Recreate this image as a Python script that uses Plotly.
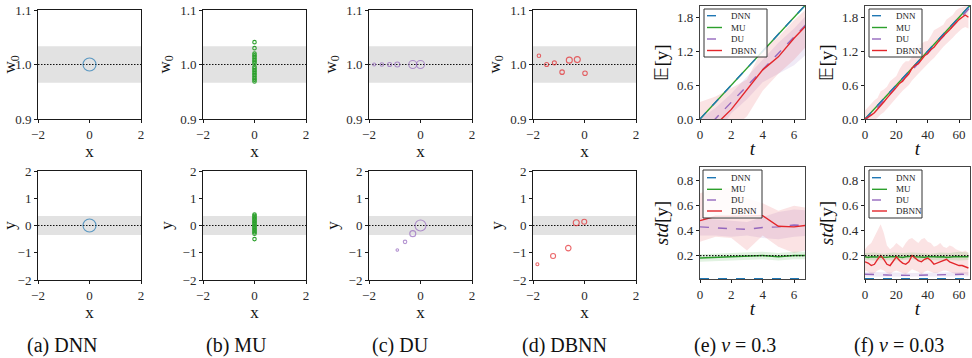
import plotly.graph_objects as go

W, H = 972, 358

# ---------------- data ----------------
# (a) DNN
dnn_top_x = [0.0]
dnn_top_w = [1.0]
dnn_top_s = [13]
dnn_bot_x = [0.0]
dnn_bot_y = [0.0]
dnn_bot_s = [13]
# (b) MU
mu_top_w = [1.041, 1.030, 1.020, 1.017, 1.014, 1.011, 1.008, 1.005, 1.002,
            0.996, 0.993, 0.990, 0.987, 0.984, 0.981, 0.978, 0.975, 0.972, 0.969]
mu_top_x = [0.0] * len(mu_top_w)
mu_bot_y = [0.40, 0.35, 0.30, 0.25, 0.20, 0.15, 0.10, 0.05, 0.00, -0.05,
            -0.10, -0.15, -0.20, -0.25, -0.30, -0.50]
mu_bot_x = [0.0] * len(mu_bot_y)
mu_s = 3.5
# (c) DU
du_top_x = [-1.8, -1.5, -1.2, -0.9, -0.3, 0.0]
du_top_w = [1.0, 1.0, 1.0, 1.0, 1.0, 1.0]
du_top_s = [3, 3.5, 4, 5, 8, 8]
du_bot_x = [-0.9, -0.6, -0.3, 0.0]
du_bot_y = [-0.9, -0.6, -0.3, 0.0]
du_bot_s = [2.5, 3.5, 6, 11]
# (d) DBNN
db_top_x = [-1.77, -1.47, -1.17, -0.87, -0.59, -0.28, 0.02]
db_top_w = [1.016, 1.000, 1.003, 0.986, 1.008, 1.009, 0.984]
db_top_s = [3.5, 4, 4, 4.5, 6, 6, 4.5]
db_bot_x = [-1.83, -1.22, -0.63, -0.32, -0.01]
db_bot_y = [-1.42, -1.12, -0.83, 0.10, 0.14]
db_bot_s = [3, 5, 5.5, 6, 5]
# noise bands
top_band = [0.9667, 1.0333]
bot_band = [-0.35, 0.35]

# (e) v = 0.3
e_t = [0, 1, 2, 3, 4, 5, 6, 7]
e_mean_dnn = [0.00, 0.30, 0.60, 0.90, 1.20, 1.50, 1.80, 2.10]
e_mean_mu = [0.00, 0.30, 0.61, 0.90, 1.21, 1.50, 1.81, 2.10]
e_mean_du = [-0.28, 0.01, 0.30, 0.59, 0.88, 1.16, 1.45, 1.74]
e_mean_dbnn = [-0.40, -0.10, 0.17, 0.51, 0.87, 1.10, 1.43, 1.72]
e_du_lo = [-0.60, -0.30, 0.10, 0.35, 0.65, 0.80, 0.95, 1.20]
e_du_hi = [0.00, 0.20, 0.45, 0.75, 1.05, 1.35, 1.60, 1.90]
e_dbnn_lo = [-0.90, -0.60, -0.20, 0.05, 0.50, 0.80, 1.05, 1.35]
e_dbnn_hi = [0.30, 0.40, 0.55, 0.70, 1.25, 1.45, 1.75, 2.00]

e_std_dnn = [0.015, 0.015, 0.015, 0.015, 0.015, 0.015, 0.015, 0.015]
e_std_mu = [0.180, 0.185, 0.190, 0.200, 0.200, 0.190, 0.200, 0.200]
e_std_du = [0.430, 0.420, 0.415, 0.410, 0.425, 0.430, 0.445, 0.440]
e_std_dbnn = [0.480, 0.515, 0.515, 0.515, 0.520, 0.435, 0.430, 0.445]
e_std_mu_lo = [0.150, 0.155, 0.160, 0.170, 0.170, 0.160, 0.170, 0.170]
e_std_mu_hi = [0.210, 0.215, 0.220, 0.230, 0.230, 0.220, 0.230, 0.230]
e_std_du_lo = [0.36, 0.36, 0.35, 0.36, 0.34, 0.33, 0.35, 0.36]
e_std_du_hi = [0.50, 0.49, 0.48, 0.47, 0.51, 0.55, 0.57, 0.56]
e_std_dbnn_lo = [0.31, 0.35, 0.34, 0.24, 0.36, 0.27, 0.22, 0.25]
e_std_dbnn_hi = [0.70, 0.74, 0.74, 0.66, 0.62, 0.56, 0.60, 0.58]

# (f) v = 0.03
f_t = [0, 10, 20, 30, 40, 50, 60, 70]
f_mean_dnn = [0.00, 0.30, 0.60, 0.90, 1.20, 1.50, 1.80, 2.10]
f_mean_mu = [0.00, 0.30, 0.60, 0.90, 1.20, 1.50, 1.80, 2.10]
f_mean_du = [-0.03, 0.27, 0.57, 0.87, 1.17, 1.46, 1.76, 2.06]
f_t2 = [0, 2, 4, 6, 8, 10, 12, 14, 16, 18, 20, 22, 24, 26, 28, 30, 32,
        34, 36, 38, 40, 42, 44, 46, 48, 50, 52, 54, 56, 58, 60, 62, 64, 66]
f_mean_dbnn = [0.00, 0.03, 0.07, 0.11, 0.17, 0.24, 0.30, 0.37, 0.43, 0.50, 0.56,
               0.63, 0.67, 0.74, 0.80, 0.90, 0.95, 0.98, 1.05, 1.12, 1.16, 1.23,
               1.27, 1.35, 1.41, 1.47, 1.52, 1.58, 1.64, 1.70, 1.76, 1.80, 1.84, 1.80]
f_dbnn_hi = [0.15, 0.21, 0.27, 0.33, 0.37, 0.49, 0.52, 0.57, 0.67, 0.72, 0.76,
             0.88, 0.97, 1.02, 1.02, 1.10, 1.25, 1.33, 1.33, 1.37, 1.38, 1.47,
             1.57, 1.60, 1.63, 1.67, 1.76, 1.80, 1.84, 1.92, 1.96, 1.98, 2.00, 2.00]
f_dbnn_lo = [-0.12, -0.10, -0.06, -0.02, 0.02, 0.08, 0.12, 0.18, 0.25, 0.30, 0.38,
             0.44, 0.50, 0.55, 0.60, 0.68, 0.75, 0.80, 0.86, 0.92, 0.98, 1.03,
             1.08, 1.15, 1.22, 1.28, 1.33, 1.38, 1.44, 1.50, 1.55, 1.60, 1.63, 1.60]

f_std_dnn = [0.015] * len(f_t2)
f_std_mu = [0.190, 0.185, 0.190, 0.188, 0.192, 0.190, 0.187, 0.185, 0.190, 0.193,
            0.190, 0.188, 0.185, 0.190, 0.192, 0.195, 0.190, 0.188, 0.190, 0.186,
            0.190, 0.193, 0.190, 0.188, 0.192, 0.190, 0.185, 0.188, 0.190, 0.193,
            0.190, 0.187, 0.190, 0.190]
f_std_du = [0.050, 0.050, 0.048, 0.047, 0.046, 0.045, 0.045, 0.044, 0.043, 0.042,
            0.042, 0.041, 0.040, 0.040, 0.040, 0.041, 0.041, 0.042, 0.043, 0.044,
            0.045, 0.046, 0.046, 0.047, 0.048, 0.048, 0.049, 0.050, 0.050, 0.050,
            0.050, 0.050, 0.049, 0.049]
f_std_dbnn = [0.15, 0.14, 0.12, 0.13, 0.17, 0.20, 0.17, 0.13, 0.12, 0.16, 0.19,
              0.16, 0.14, 0.13, 0.15, 0.20, 0.18, 0.16, 0.15, 0.17, 0.18, 0.16,
              0.13, 0.14, 0.15, 0.16, 0.17, 0.15, 0.14, 0.13, 0.12, 0.12, 0.11, 0.10]
f_std_dbnn_hi = [0.25, 0.28, 0.30, 0.35, 0.40, 0.45, 0.38, 0.28, 0.25, 0.27, 0.30,
                 0.28, 0.26, 0.30, 0.33, 0.34, 0.32, 0.30, 0.33, 0.34, 0.31, 0.30,
                 0.27, 0.28, 0.30, 0.27, 0.26, 0.28, 0.27, 0.25, 0.24, 0.23, 0.24, 0.22]
f_std_dbnn_lo = [0.08, 0.07, 0.05, 0.06, 0.08, 0.09, 0.08, 0.06, 0.05, 0.07, 0.08,
                 0.07, 0.06, 0.05, 0.07, 0.09, 0.08, 0.07, 0.05, 0.07, 0.08, 0.07,
                 0.06, 0.06, 0.07, 0.08, 0.08, 0.07, 0.06, 0.05, 0.05, 0.05, 0.05, 0.04]
f_t6 = [0, 6, 12, 18, 24, 30, 36, 42, 48, 54, 60, 66]
f_std_mu_lo = [0.165, 0.160, 0.165, 0.160, 0.165, 0.170, 0.160, 0.165, 0.160, 0.165, 0.160, 0.165]
f_std_mu_hi = [0.220, 0.225, 0.215, 0.225, 0.220, 0.225, 0.220, 0.215, 0.225, 0.220, 0.230, 0.225]
f_std_du_lo = [0.030, 0.030, 0.028, 0.027, 0.027, 0.028, 0.029, 0.030, 0.031, 0.032, 0.032, 0.032]
f_std_du_hi = [0.070, 0.068, 0.065, 0.062, 0.060, 0.060, 0.062, 0.064, 0.066, 0.068, 0.068, 0.068]

true_std = 0.2
names = ["DNN", "MU", "DU", "DBNN"]
captions = ["(a) DNN", "(b) MU", "(c) DU", "(d) DBNN",
            "(e) <i>v</i> = 0.3", "(f) <i>v</i> = 0.03"]

# ---------------- style ----------------
C_DNN = "#1f77b4"
C_MU = "#2ca02c"
C_DU = "#9467bd"
C_DBNN = "#e3262b"
FONT = "Liberation Serif, Times New Roman, serif"
TICKC = "#2a2a2a"
DOT = "1.5px,1.5px"

fig = go.Figure()

# subplot pixel boxes (x0, x1, y0, y1) in screen px
boxes = {
    1: (38, 141, 10, 119), 2: (203, 306, 10, 119), 3: (369, 472, 10, 119),
    4: (533, 636, 10, 119), 5: (700, 805, 6, 119), 6: (865, 970, 6, 119),
    7: (38, 141, 171, 280), 8: (203, 306, 171, 280), 9: (369, 472, 171, 280),
    10: (533, 636, 171, 280), 11: (700, 805, 167, 279), 12: (865, 970, 167, 279),
}


def ax_names(i):
    return ("x" if i == 1 else f"x{i}"), ("y" if i == 1 else f"y{i}")


layout = {}
for i, (x0, x1, y0, y1) in boxes.items():
    xa, ya = ax_names(i)
    xk = "xaxis" if i == 1 else f"xaxis{i}"
    yk = "yaxis" if i == 1 else f"yaxis{i}"
    common = dict(showline=True, mirror=True, linecolor="#1a1a1a", linewidth=1,
                  ticks="outside", ticklen=3, tickwidth=1, tickcolor="#1a1a1a",
                  showgrid=False, zeroline=False, automargin=False,
                  tickfont=dict(family=FONT, size=13, color=TICKC))
    if i in (5, 6, 11, 12):
        common["linecolor"] = "#444444"
        common["linewidth"] = 1.3
    layout[xk] = dict(domain=[x0 / W, x1 / W], anchor=ya, **common)
    layout[yk] = dict(domain=[1 - y1 / H, 1 - y0 / H], anchor=xa, **common)

TITLE_SM = dict(family=FONT, size=17, color="#111")
TITLE_LG = dict(family=FONT, size=19, color="#111")

for i in (1, 2, 3, 4, 7, 8, 9, 10):
    xk = "xaxis" if i == 1 else f"xaxis{i}"
    yk = "yaxis" if i == 1 else f"yaxis{i}"
    layout[xk].update(range=[-2, 2], tickvals=[-2, 0, 2],
                      title=dict(text="x", font=TITLE_SM, standoff=2))
    if i <= 4:
        layout[yk].update(range=[0.9, 1.1], tickvals=[0.9, 1.0, 1.1], tickformat=".1f",
                          title=dict(text="w<sub>0</sub>", font=TITLE_SM, standoff=5))
    else:
        layout[yk].update(range=[-2, 2], tickvals=[-2, -1, 0, 1, 2],
                          title=dict(text="y", font=TITLE_SM, standoff=5))

for k in ("xaxis5", "xaxis11"):
    layout[k].update(range=[0, 6.7], tickvals=[0, 2, 4, 6],
                     title=dict(text="<i>t</i>", font=TITLE_LG, standoff=0))
for k in ("xaxis6", "xaxis12"):
    layout[k].update(range=[0, 67], tickvals=[0, 20, 40, 60],
                     title=dict(text="<i>t</i>", font=TITLE_LG, standoff=0))
for k in ("yaxis5", "yaxis6"):
    layout[k].update(range=[0, 2.0], tickvals=[0, 0.6, 1.2, 1.8], tickformat=".1f",
                     title=dict(text="𝔼[y]", font=TITLE_LG, standoff=3))
for k in ("yaxis11", "yaxis12"):
    layout[k].update(range=[0.012, 0.91], tickvals=[0.2, 0.4, 0.6, 0.8], tickformat=".1f",
                     title=dict(text="<i>std</i>[y]", font=TITLE_LG, standoff=3))


def sc(i, x, y, color, size):
    xa, ya = ax_names(i)
    fig.add_trace(go.Scatter(x=x, y=y, mode="markers", xaxis=xa, yaxis=ya,
                             showlegend=False, hoverinfo="skip",
                             marker=dict(symbol="circle-open", size=size, color=color,
                                         line=dict(width=1.1, color=color))))


def line(i, x, y, color, dash="solid", width=1.4):
    xa, ya = ax_names(i)
    fig.add_trace(go.Scatter(x=x, y=y, mode="lines", xaxis=xa, yaxis=ya,
                             showlegend=False, hoverinfo="skip",
                             line=dict(color=color, dash=dash, width=width)))


def band(i, x, lo, hi, rgba):
    xa, ya = ax_names(i)
    fig.add_trace(go.Scatter(x=x, y=lo, mode="lines", xaxis=xa, yaxis=ya,
                             showlegend=False, hoverinfo="skip",
                             line=dict(width=0, color=rgba)))
    fig.add_trace(go.Scatter(x=x, y=hi, mode="lines", xaxis=xa, yaxis=ya,
                             showlegend=False, hoverinfo="skip", fill="tonexty",
                             fillcolor=rgba, line=dict(width=0, color=rgba)))


shapes = []
annotations = []
# grey bands + dotted reference lines in scatter panels
for i in (1, 2, 3, 4, 7, 8, 9, 10):
    xa, ya = ax_names(i)
    bnd = top_band if i <= 4 else bot_band
    ref = 1.0 if i <= 4 else 0.0
    shapes.append(dict(type="rect", xref=f"{xa} domain", yref=ya, x0=0, x1=1,
                       y0=bnd[0], y1=bnd[1], fillcolor="#e2e2e2", line=dict(width=0),
                       layer="below"))
    shapes.append(dict(type="line", xref=f"{xa} domain", yref=ya, x0=0, x1=1,
                       y0=ref, y1=ref, line=dict(color="#111", width=1.2, dash=DOT),
                       layer="below"))

sc(1, dnn_top_x, dnn_top_w, C_DNN, dnn_top_s)
sc(7, dnn_bot_x, dnn_bot_y, C_DNN, dnn_bot_s)
sc(2, mu_top_x, mu_top_w, C_MU, mu_s)
sc(8, mu_bot_x, mu_bot_y, C_MU, mu_s)
sc(3, du_top_x, du_top_w, C_DU, du_top_s)
sc(9, du_bot_x, du_bot_y, C_DU, du_bot_s)
sc(4, db_top_x, db_top_w, C_DBNN, db_top_s)
sc(10, db_bot_x, db_bot_y, C_DBNN, db_bot_s)

PINK = "rgba(227,38,43,0.13)"
LAV = "rgba(148,103,189,0.14)"
GRN = "rgba(44,160,44,0.14)"

# (e) top
band(5, e_t, e_du_lo, e_du_hi, LAV)
band(5, e_t, e_dbnn_lo, e_dbnn_hi, PINK)
line(5, e_t, e_mean_mu, C_MU)
line(5, e_t, e_mean_dnn, C_DNN, "dash")
line(5, e_t, e_mean_du, C_DU, "dash")
line(5, e_t, e_mean_dbnn, C_DBNN)
# (f) top
band(6, f_t2, f_dbnn_lo, f_dbnn_hi, PINK)
line(6, f_t, f_mean_mu, C_MU)
line(6, f_t, f_mean_dnn, C_DNN, "dash")
line(6, f_t, f_mean_du, C_DU, "dash")
line(6, f_t2, f_mean_dbnn, C_DBNN)
# (e) bottom
band(11, e_t, e_std_du_lo, e_std_du_hi, LAV)
band(11, e_t, e_std_dbnn_lo, e_std_dbnn_hi, PINK)
band(11, e_t, e_std_mu_lo, e_std_mu_hi, GRN)
line(11, e_t, e_std_dnn, C_DNN, "dash")
line(11, e_t, e_std_mu, C_MU)
line(11, e_t, e_std_du, C_DU, "dash")
line(11, e_t, e_std_dbnn, C_DBNN)
# (f) bottom
band(12, f_t2, f_std_dbnn_lo, f_std_dbnn_hi, PINK)
band(12, f_t6, f_std_mu_lo, f_std_mu_hi, GRN)
band(12, f_t6, f_std_du_lo, f_std_du_hi, LAV)
line(12, f_t2, f_std_dnn, C_DNN, "dash")
line(12, f_t2, f_std_mu, C_MU)
line(12, f_t2, f_std_du, C_DU, "dash")
line(12, f_t2, f_std_dbnn, C_DBNN)

for i in (11, 12):
    xa, ya = ax_names(i)
    shapes.append(dict(type="line", xref=f"{xa} domain", yref=ya, x0=0, x1=1,
                       y0=true_std, y1=true_std,
                       line=dict(color="#111", width=1.2, dash=DOT), layer="above"))


# hand-drawn legends (matplotlib style, compact)
def px(xp):
    return xp / W


def py(yp):
    return 1 - yp / H


leg_styles = [(C_DNN, "dash"), (C_MU, "solid"), (C_DU, "dash"), (C_DBNN, "solid")]


def add_legend(bx0, bx1, by0, by1, lx0, lx1, tx, rows):
    shapes.append(dict(type="rect", xref="paper", yref="paper",
                       x0=px(bx0), x1=px(bx1), y0=py(by1), y1=py(by0),
                       fillcolor="rgba(255,255,255,0.85)",
                       line=dict(color="#333", width=1), layer="above"))
    for (col, dash), name, ry in zip(leg_styles, names, rows):
        shapes.append(dict(type="line", xref="paper", yref="paper",
                           x0=px(lx0), x1=px(lx1), y0=py(ry), y1=py(ry),
                           line=dict(color=col, width=1.4, dash=dash), layer="above"))
        annotations.append(dict(text=name, xref="paper", yref="paper",
                                x=px(tx), y=py(ry), xanchor="left", yanchor="middle",
                                showarrow=False,
                                font=dict(family=FONT, size=9, color="#222")))


add_legend(704, 767, 9, 57, 707, 722, 729, [15.7, 27.5, 39, 50.5])
add_legend(869, 922, 9, 57, 872, 887, 894, [15.7, 27.5, 39, 50.5])
add_legend(703, 762, 170, 218, 707, 722, 729, [177.7, 189.3, 200, 211])
add_legend(869, 922, 170, 218, 872, 887, 894, [177.7, 189.3, 200, 211])

cap_x = [62, 236, 400, 564, 735, 899]
for cx, txt in zip(cap_x, captions):
    annotations.append(dict(text=txt, xref="paper", yref="paper", x=px(cx), y=py(345),
                            xanchor="center", yanchor="middle", showarrow=False,
                            font=dict(family=FONT, size=20, color="#111")))

fig.update_layout(**layout)
fig.update_layout(width=W, height=H, margin=dict(l=0, r=0, t=0, b=0, autoexpand=False),
                  paper_bgcolor="white", plot_bgcolor="white",
                  font=dict(family=FONT), shapes=shapes, annotations=annotations,
                  showlegend=False)

fig.write_html("out.html", config={"displayModeBar": False},
               post_script="document.body.style.margin='0';document.body.style.padding='0';"
                           "document.documentElement.style.overflow='hidden';")
